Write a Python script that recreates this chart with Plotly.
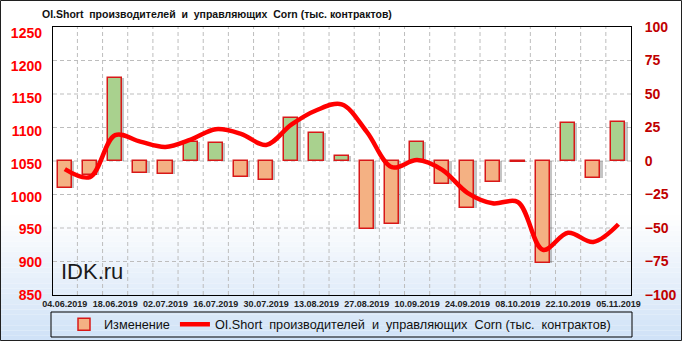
import plotly.graph_objects as go

# ---- data ----
dates = ["04.06.2019", "11.06.2019", "18.06.2019", "25.06.2019", "02.07.2019", "09.07.2019",
         "16.07.2019", "23.07.2019", "30.07.2019", "06.08.2019", "13.08.2019", "20.08.2019",
         "27.08.2019", "03.09.2019", "10.09.2019", "17.09.2019", "24.09.2019", "01.10.2019",
         "08.10.2019", "15.10.2019", "22.10.2019", "29.10.2019", "05.11.2019"]
oi_short = [1042, 1030, 1094, 1084, 1076, 1087, 1103, 1096, 1079, 1110, 1132, 1141,
            1099, 1045, 1056, 1041, 1006, 990, 992, 919, 945, 931, 958]
change = [-20, -10.5, 61.7, -8.7, -9.7, 14.4, 13.7, -11.7, -14.2, 31.8, 20.6, 4,
          -50.7, -47, 14, -17.2, -34.8, -15.9, -0.6, -75.9, 28.1, -12.4, 28.9]
left_ticks = [850, 900, 950, 1000, 1050, 1100, 1150, 1200, 1250]
right_ticks = [-100, -75, -50, -25, 0, 25, 50, 75, 100]

idx = list(range(len(dates)))
tick_idx = idx[::2]
tick_txt = dates[::2]
boundaries = [i + 0.5 for i in idx[:-1]]

title_txt = "OI.Short\u00a0 производителей\u00a0 и\u00a0 управляющих\u00a0 Corn (тыс. контрактов)"
legend_line = "OI.Short\u00a0 производителей\u00a0 и\u00a0 управляющих\u00a0 Corn (тыс.\u00a0 контрактов)"

W, H = 682, 341
L, R, T, B = 53, 51, 27, 46
pw, ph = W - L - R, H - T - B
XR = [-0.47, 22.5]
YR = [-100, 100]

bar_colors = ["#a9d18e" if v >= 0 else "#f4b183" for v in change]
BW = 0.56

# gridline paths built from the axis tick arrays
gx, gy = [], []
for v in right_ticks[1:-1]:
    gx += [XR[0], XR[1], None]
    gy += [v, v, None]
for bx in boundaries:
    gx += [bx, bx, None]
    gy += [YR[0], YR[1], None]

fig = go.Figure()
# dashed grid (main subplot, drawn first)
fig.add_trace(go.Scatter(x=gx, y=gy, mode="lines", showlegend=False, hoverinfo="skip",
                         line=dict(color="#bdbdbd", width=1, dash="4px,3px"),
                         xaxis="x", yaxis="y"))
# bar shadow + bars (overlay subplot y2)
fig.add_trace(go.Bar(x=idx, y=change, width=BW, offset=-BW / 2 + 0.09,
                     marker=dict(color="rgba(60,60,60,0.30)", line=dict(width=0)),
                     showlegend=False, hoverinfo="skip", xaxis="x", yaxis="y2"))
fig.add_trace(go.Bar(x=idx, y=change, width=BW, offset=-BW / 2, name="Изменение",
                     marker=dict(color=bar_colors, line=dict(color="#d81818", width=1.5)),
                     xaxis="x", yaxis="y2"))
# line (overlay subplot y3, left axis)
fig.add_trace(go.Scatter(x=idx, y=oi_short, mode="lines", name=legend_line,
                         line=dict(color="#ff0000", width=4.5, shape="spline", smoothing=1),
                         xaxis="x", yaxis="y3"))

shapes = []
# background gradient strips
n = 24
y_start = 215
for k in range(n):
    y0p = y_start + (H - y_start) * k / n
    y1p = y_start + (H - y_start) * (k + 1) / n
    f = (k + 0.5) / n
    r = int(255 - (255 - 208) * f)
    g = int(255 - (255 - 226) * f)
    b = int(255 - (255 - 247) * f)
    shapes.append(dict(type="rect", xref="paper", yref="paper", layer="below",
                       x0=-L / pw, x1=1 + R / pw,
                       y0=(H - B - y1p) / ph, y1=(H - B - y0p) / ph,
                       fillcolor=f"rgb({r},{g},{b})", line=dict(width=0)))
# outer frame
shapes.append(dict(type="rect", xref="paper", yref="paper", fillcolor="rgba(0,0,0,0)",
                   x0=(-L + 0.5) / pw, x1=1 + (R - 0.5) / pw,
                   y0=(-B + 0.5) / ph, y1=1 + (T - 0.5) / ph,
                   line=dict(color="#202020", width=1)))
# legend box
shapes.append(dict(type="rect", xref="paper", yref="paper", fillcolor="rgba(0,0,0,0)",
                   x0=(51 - L) / pw, x1=(632 - L) / pw,
                   y0=(H - B - 337) / ph, y1=(H - B - 312) / ph,
                   line=dict(color="#000000", width=1)))

fig.update_layout(
    width=W, height=H,
    margin=dict(l=L, r=R, t=T, b=B, pad=0, autoexpand=False),
    paper_bgcolor="white", plot_bgcolor="rgba(255,255,255,0)",
    barmode="overlay", bargap=0,
    font=dict(family="Liberation Sans, Arial, sans-serif", color="#000000"),
    title=dict(text=title_txt, font=dict(size=10.5, family="Liberation Sans", color="#111111", weight="bold"),
               xref="container", x=42 / W, xanchor="left",
               yref="container", y=1 - 14 / H, yanchor="middle"),
    xaxis=dict(range=XR, tickmode="array", tickvals=tick_idx, ticktext=tick_txt,
               showgrid=False, zeroline=False, showline=True, linecolor="#000000", linewidth=1,
               mirror=True, ticks="", automargin=False,
               tickfont=dict(size=9, family="Liberation Sans", color="#222222", weight="bold")),
    yaxis=dict(range=YR, side="right", tickmode="array", tickvals=right_ticks,
               showgrid=False, zeroline=False, showline=True, linecolor="#000000", linewidth=1,
               mirror=True, ticks="", ticklabelstandoff=10, automargin=False,
               tickfont=dict(size=14, family="Liberation Sans", color="#c00000", weight="bold")),
    yaxis2=dict(range=YR, overlaying="y", side="right", anchor="x", visible=False,
                showgrid=False, zeroline=False, automargin=False),
    yaxis3=dict(range=[850, 1259], side="left", overlaying="y", anchor="x", tickmode="array",
                tickvals=left_ticks, showgrid=False, zeroline=False, showline=False,
                ticks="", ticklabelstandoff=10, automargin=False,
                tickfont=dict(size=14, family="Liberation Sans", color="#ff0000", weight="bold")),
    legend=dict(orientation="h", xref="paper", yref="paper", x=(64 - L) / pw, xanchor="left",
                y=(H - B - 324.5) / ph, yanchor="middle", bgcolor="rgba(0,0,0,0)",
                borderwidth=0, font=dict(size=12.7, family="Liberation Sans", color="#111111"),
                traceorder="normal", itemwidth=30),
    shapes=shapes,
    annotations=[dict(text="IDK.ru", xref="paper", yref="paper", x=(59 - L) / pw, y=(H - B - 271) / ph,
                      xanchor="left", yanchor="middle", showarrow=False,
                      font=dict(size=22, family="Liberation Sans", color="#1a1a1a"))],
)

fig.write_html("out.html")
